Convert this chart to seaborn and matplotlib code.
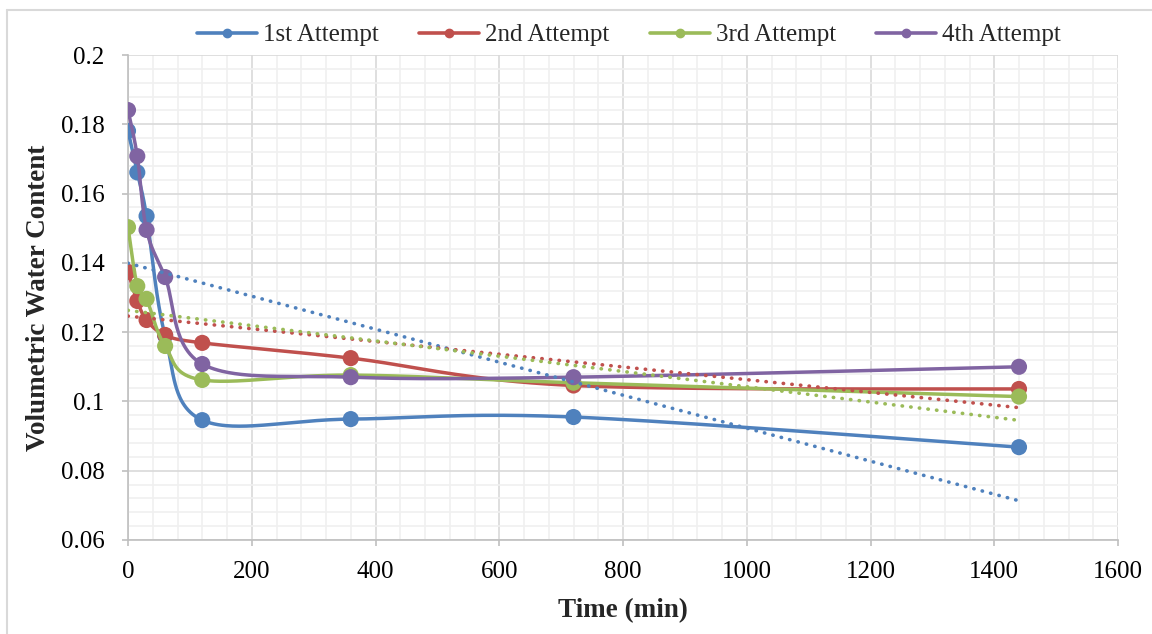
import numpy as np
import pandas as pd
import matplotlib
matplotlib.use("Agg")
import matplotlib.pyplot as plt
from matplotlib.lines import Line2D
from matplotlib.ticker import MultipleLocator, FuncFormatter
import seaborn as sns

# ---- data ----
time_min = [0, 15, 30, 60, 120, 360, 720, 1440]
attempt1 = [0.1781, 0.1661, 0.1535, 0.1190, 0.0946, 0.0949, 0.0955, 0.0868]
attempt2 = [0.1374, 0.1290, 0.1235, 0.1192, 0.1169, 0.1125, 0.1046, 0.1036]
attempt3 = [0.1503, 0.1333, 0.1296, 0.1160, 0.1062, 0.1076, 0.1054, 0.1014]
attempt4 = [0.1841, 0.1708, 0.1495, 0.1359, 0.1108, 0.1070, 0.1070, 0.1100]
series_names = ["1st Attempt", "2nd Attempt", "3rd Attempt", "4th Attempt"]
series_colors = ["#4F81BD", "#C0504D", "#9BBB59", "#8064A2"]
trend_flags = [True, True, True, False]   # linear trendlines shown
x_ticks = [0, 200, 400, 600, 800, 1000, 1200, 1400, 1600]
y_ticks = [0.06, 0.08, 0.10, 0.12, 0.14, 0.16, 0.18, 0.20]


def excel_smooth(xs, ys, n=60):
    """Catmull-Rom style Bezier smoothing (like Excel's smoothed line)."""
    P = np.column_stack([xs, ys]).astype(float)
    m = len(P)
    out = []
    for i in range(m - 1):
        p0 = P[i - 1] if i > 0 else P[i]
        p1 = P[i]
        p2 = P[i + 1]
        p3 = P[i + 2] if i + 2 < m else P[i + 1]
        c1 = p1 + (p2 - p0) / 6.0
        c2 = p2 - (p3 - p1) / 6.0
        t = np.linspace(0, 1, n)[:, None]
        seg = ((1 - t) ** 3) * p1 + 3 * ((1 - t) ** 2) * t * c1 + 3 * (1 - t) * t ** 2 * c2 + t ** 3 * p2
        out.append(seg if i == 0 else seg[1:])
    out = np.vstack(out)
    return out[:, 0], out[:, 1]


sns.set_theme(style="white")
plt.rcParams["font.family"] = ["Liberation Serif", "DejaVu Serif"]

W, H = 1152, 634
fig = plt.figure(figsize=(W / 100, H / 100), dpi=100)
ax = fig.add_axes([128 / W, 1 - 540 / H, (1118 - 128) / W, (540 - 55) / H])

all_series = [attempt1, attempt2, attempt3, attempt4]
for k, (vals, name, col) in enumerate(zip(all_series, series_names, series_colors)):
    sx, sy = excel_smooth(time_min, vals)
    df_s = pd.DataFrame({"t": sx, "v": sy})
    sns.lineplot(data=df_s, x="t", y="v", color=col, lw=2.5, sort=False,
                 estimator=None, ax=ax, zorder=3 + k * 2)
    df_p = pd.DataFrame({"t": time_min, "v": vals})
    sns.scatterplot(data=df_p, x="t", y="v", color=col, s=135, edgecolor="none",
                    ax=ax, zorder=4 + k * 2)

for k, (vals, col, show) in enumerate(zip(all_series, series_colors, trend_flags)):
    if not show:
        continue
    df_p = pd.DataFrame({"t": time_min, "v": vals})
    sns.regplot(data=df_p, x="t", y="v", scatter=False, ci=None, truncate=True,
                color=col, ax=ax,
                line_kws=dict(lw=2.6, linestyle=(0, (0.1, 2.3)),
                              dash_capstyle="round", zorder=20 + k))

ax.set_xlim(0, 1600)
ax.set_ylim(0.06, 0.2)
ax.set_xticks(x_ticks)
ax.set_yticks(y_ticks)
ax.xaxis.set_minor_locator(MultipleLocator(40))
ax.yaxis.set_minor_locator(MultipleLocator(0.004))
ax.yaxis.set_major_formatter(FuncFormatter(lambda v, p: f"{v:g}"))
ax.grid(which="major", color="#d9d9d9", lw=1.2, zorder=0)
ax.grid(which="minor", color="#f0f0f0", lw=1.2, zorder=0)
ax.set_axisbelow(True)
for s in ["top", "right"]:
    ax.spines[s].set_visible(False)
for s in ["left", "bottom"]:
    ax.spines[s].set_color("#bfbfbf")
    ax.spines[s].set_linewidth(1.2)
ax.tick_params(axis="both", which="major", length=4, width=1.2, color="#bfbfbf",
               labelsize=18, labelcolor="#000000", direction="out",
               bottom=True, left=True)
ax.tick_params(axis="x", which="major", pad=11)
ax.tick_params(axis="y", which="major", pad=13)
ax.tick_params(axis="both", which="minor", length=0)

ax.set_xlabel("Time (min)", fontsize=19.5, fontweight="bold", labelpad=11)
ax.set_ylabel("Volumetric Water Content", fontsize=19.5, fontweight="bold", labelpad=7)

handles = [Line2D([0], [0], color=c, lw=2.6, marker="o", markersize=6) for c in series_colors]
fig.legend(handles, series_names, loc="center", bbox_to_anchor=(0.546, 1 - 35 / H),
           ncol=4, frameon=False, fontsize=18, handlelength=2.4, handletextpad=0.25,
           columnspacing=1.6)

# chart-area border
fig.add_artist(Line2D([7 / W, 1.0], [1 - 10 / H, 1 - 10 / H], color="#d9d9d9", lw=1.5,
                      transform=fig.transFigure))
fig.add_artist(Line2D([7 / W, 7 / W], [0.0, 1 - 10 / H], color="#d9d9d9", lw=1.5,
                      transform=fig.transFigure))

fig.savefig("out.png", dpi=100)
